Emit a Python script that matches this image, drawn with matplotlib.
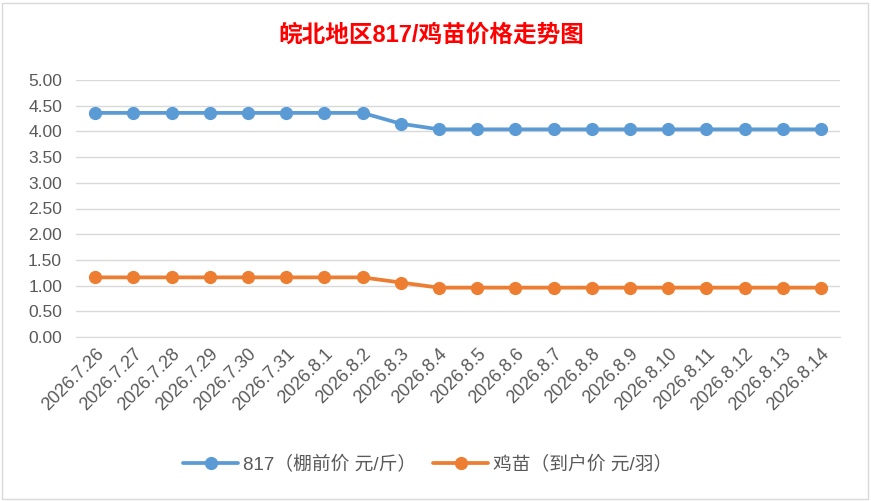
import matplotlib
matplotlib.use("Agg")
import matplotlib.pyplot as plt
from matplotlib.patches import Rectangle

dates = ["2026.7.26", "2026.7.27", "2026.7.28", "2026.7.29", "2026.7.30", "2026.7.31",
         "2026.8.1", "2026.8.2", "2026.8.3", "2026.8.4", "2026.8.5", "2026.8.6",
         "2026.8.7", "2026.8.8", "2026.8.9", "2026.8.10", "2026.8.11", "2026.8.12",
         "2026.8.13", "2026.8.14"]
price_817 = [4.36, 4.36, 4.36, 4.36, 4.36, 4.36, 4.36, 4.36, 4.15, 4.04,
             4.04, 4.04, 4.04, 4.04, 4.04, 4.04, 4.04, 4.04, 4.04, 4.04]
price_chick = [1.16, 1.16, 1.16, 1.16, 1.16, 1.16, 1.16, 1.16, 1.06, 0.96,
               0.96, 0.96, 0.96, 0.96, 0.96, 0.96, 0.96, 0.96, 0.96, 0.96]
series_names = ["817（棚前价 元/斤）", "鸡苗（到户价 元/羽）"]
yticks = [0.0, 0.5, 1.0, 1.5, 2.0, 2.5, 3.0, 3.5, 4.0, 4.5, 5.0]
title = "皖北地区817/鸡苗价格走势图"

plt.rcParams['font.family'] = ['Liberation Sans', 'Noto Sans CJK SC', 'DejaVu Sans']

fig = plt.figure(figsize=(8.71, 5.01), dpi=100)
fig.patches.append(Rectangle((2/871, 2/501), 866/871, 496/501, transform=fig.transFigure,
                             fill=False, edgecolor='#D9D9D9', linewidth=1))
ax = fig.add_axes([76/871, 164/501, 764/871, 257/501])

x = list(range(len(dates)))
ax.plot(x, price_817, color='#5B9BD5', linewidth=2.7, marker='o', markersize=8.5,
        label=series_names[0], solid_capstyle='round')
ax.plot(x, price_chick, color='#ED7D31', linewidth=2.7, marker='o', markersize=8.5,
        label=series_names[1], solid_capstyle='round')

ax.set_xlim(-0.5, len(dates) - 0.5)
ax.set_ylim(0, 5)
ax.set_yticks(yticks)
ax.set_yticklabels([f"{v:.2f}" for v in yticks])
ax.set_xticks(x)
ax.set_xticklabels(dates, rotation=45, ha='right', rotation_mode='anchor')
ax.grid(axis='y', color='#D9D9D9', linewidth=1)
ax.set_axisbelow(True)
for s in ['top', 'right', 'left']:
    ax.spines[s].set_visible(False)
ax.spines['bottom'].set_color('#D9D9D9')
ax.tick_params(axis='y', length=0, labelsize=12.5, colors='#595959', pad=10)
ax.tick_params(axis='x', length=0, labelsize=13, colors='#595959', pad=6)

fig.text(431/871, 1 - 35/501, title, ha='center', va='center', color='#FF0000',
         fontsize=17, fontweight='bold')

leg = fig.legend(loc='center', bbox_to_anchor=(428/871, 1 - 465/501), ncol=2, frameon=False,
                 fontsize=13.5, handlelength=2.9, columnspacing=0.9, handletextpad=0.3)
for t in leg.get_texts():
    t.set_color('#595959')

fig.savefig("out.png", dpi=100)
